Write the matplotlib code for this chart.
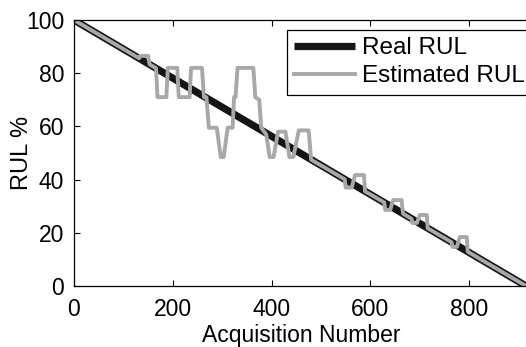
import matplotlib
matplotlib.use("Agg")
import matplotlib.pyplot as plt

plt.rcParams['font.family'] = ['Liberation Sans', 'DejaVu Sans']

# Real RUL (linear decrease)
real_x = [0, 915]
real_y = [100, 0]

# Estimated RUL (breakpoints)
est_x = [0, 132, 134, 150, 153, 166, 169, 187, 190, 209, 212, 234, 237, 259, 263,
         268, 273, 289, 297, 303, 311, 321, 324, 327, 331, 363, 367, 375, 379, 389,
         396, 404, 413, 428, 436, 444, 455, 475, 480,
         548, 550, 562, 569, 587, 589,
         628, 630, 640, 646, 663, 666,
         683, 685, 694, 700, 714, 716,
         764, 766, 775, 781, 795, 797, 915]
est_y = [100, 85.6, 86.5, 86.5, 83.3, 81.9, 71, 71, 82, 82, 71, 71, 82, 82, 71,
         71, 59.5, 59.5, 48.5, 48.5, 59.5, 59.5, 71, 71, 82, 82, 71, 70, 59.5, 57,
         48.5, 48.5, 58, 58, 48.5, 48.5, 58.5, 58.5, 47.5,
         40.1, 37, 37, 41.7, 41.7, 35.6,
         31.4, 28.6, 28.6, 32.3, 32.3, 27.2,
         25.3, 23.7, 23.7, 26.7, 26.7, 21.7,
         16.5, 14.7, 14.7, 18.4, 18.4, 12.9, 0]

x_ticks = [0, 200, 400, 600, 800]
y_ticks = [0, 20, 40, 60, 80, 100]

fig = plt.figure(figsize=(5.26, 3.47), dpi=100)
W, H = 526, 347
ax_w = 455
ax = fig.add_axes([74 / W, (H - 286) / H, ax_w / W, 266 / H])

ax.plot(real_x, real_y, color='#151515', lw=5.2, label='Real RUL', solid_capstyle='butt')
ax.plot(est_x, est_y, color='#a8a8a8', lw=2.8, label='Estimated RUL')

ax.set_xlim(0, 921)
ax.set_ylim(0, 100)
ax.set_xticks(x_ticks)
ax.set_yticks(y_ticks)
ax.tick_params(direction='in', length=4, width=0.8, top=True, right=False,
               labelsize=16.5, colors='black')
ax.tick_params(axis='x', pad=9)
ax.tick_params(axis='y', pad=7)
for s in ax.spines.values():
    s.set_linewidth(0.9)
ax.spines['right'].set_visible(False)
ax.set_xlabel('Acquisition Number', fontsize=16.5, labelpad=2)
ax.set_ylabel('RUL %', fontsize=17)
ax.yaxis.set_label_coords(-0.09, 0.5)

leg = ax.legend(loc='upper left', bbox_to_anchor=((287 - 74) / ax_w, (286 - 30) / 266),
                fontsize=17.5, frameon=True, fancybox=False, edgecolor='black',
                framealpha=1, handlelength=2.5, borderpad=0.3, labelspacing=0.25,
                handletextpad=0.3, borderaxespad=0)
leg.get_frame().set_linewidth(0.9)

fig.savefig('out.png', dpi=100)
